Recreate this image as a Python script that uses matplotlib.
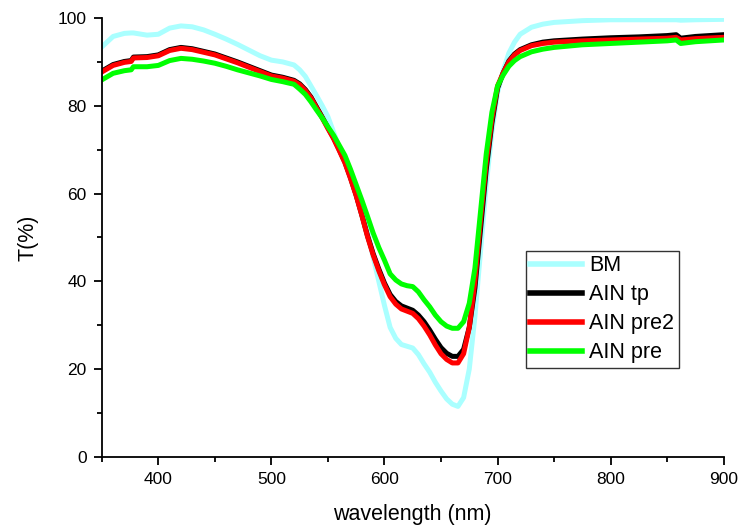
import matplotlib
matplotlib.use("Agg")
import matplotlib.pyplot as plt
from matplotlib.ticker import MultipleLocator

plt.rcParams['font.family'] = ['Liberation Sans', 'DejaVu Sans']

# wavelength grid (nm) shared by all curves
wl = [350, 360, 370, 376, 378, 390, 400, 410, 420, 430, 440, 450, 460, 470, 480,
      490, 500, 510, 520, 525, 530, 535, 540, 545, 550, 555, 560, 565, 570, 575,
      580, 585, 590, 595, 600, 605, 610, 615, 620, 625, 630, 635, 640, 645, 650,
      655, 660, 665, 670, 675, 680, 685, 690, 695, 700, 705, 710, 715, 720, 730,
      740, 750, 775, 800, 825, 850, 858, 862, 875, 900]

bm = [93.4, 95.8, 96.5, 96.6, 96.6, 96.1, 96.3, 97.7, 98.2, 98.0, 97.3, 96.3, 95.2, 94.0, 92.7,
      91.4, 90.4, 90.0, 89.3, 88.2, 86.7, 84.5, 82.3, 80.0, 77.5, 74.0, 70.5, 67.3, 63.8, 60.0,
      56.0, 51.5, 45.5, 40.0, 34.5, 29.5, 27.0, 25.6, 25.2, 24.8, 23.3, 21.2, 19.3, 17.0, 15.0,
      13.2, 12.0, 11.5, 13.5, 20.0, 32.0, 47.0, 62.0, 74.0, 83.0, 88.0, 92.0, 94.5, 96.3, 97.9,
      98.6, 99.0, 99.4, 99.6, 99.6, 99.6, 99.6, 99.5, 99.6, 99.7]

aln_tp = [87.9, 89.4, 90.1, 90.3, 91.1, 91.2, 91.6, 92.8, 93.3, 93.0, 92.4, 91.8, 90.9, 90.0, 89.0,
          88.0, 87.0, 86.5, 85.8, 85.0, 83.7, 82.0, 79.7, 77.4, 75.0, 72.7, 70.0, 67.2, 63.6, 59.6,
          55.1, 50.4, 46.3, 42.8, 39.6, 37.0, 35.4, 34.4, 33.9, 33.4, 32.3, 30.8, 28.9, 26.8, 24.9,
          23.6, 22.9, 22.9, 24.5, 29.5, 38.5, 52.0, 65.5, 76.0, 84.0, 87.5, 90.2, 91.8, 92.8, 93.9,
          94.5, 94.8, 95.2, 95.5, 95.7, 96.0, 96.2, 95.4, 95.8, 96.2]

aln_pre2 = [87.7, 89.2, 89.9, 90.1, 90.9, 91.0, 91.4, 92.6, 93.1, 92.8, 92.2, 91.6, 90.7, 89.8, 88.8,
            87.8, 86.8, 86.3, 85.6, 84.8, 83.5, 81.8, 79.5, 77.2, 74.8, 72.5, 69.8, 67.0, 63.4, 59.5,
            55.0, 50.2, 46.0, 42.4, 39.2, 36.5, 34.8, 33.7, 33.2, 32.7, 31.5, 29.8, 27.8, 25.5, 23.5,
            22.2, 21.4, 21.4, 23.5, 29.5, 40.0, 54.0, 67.0, 77.0, 84.5, 87.5, 90.0, 91.6, 92.6, 93.7,
            94.2, 94.5, 94.8, 95.0, 95.2, 95.4, 95.6, 95.0, 95.3, 95.6]

aln_pre = [85.9, 87.4, 88.0, 88.2, 88.9, 88.9, 89.2, 90.3, 90.8, 90.6, 90.2, 89.7, 89.0, 88.2, 87.5,
           86.8, 86.0, 85.5, 84.9, 83.8, 82.6, 80.9, 79.0, 77.2, 75.2, 73.3, 71.0, 68.7, 65.5, 62.0,
           58.5, 54.8, 51.0, 47.7, 44.8, 41.7, 40.3, 39.4, 39.0, 38.8, 37.6, 35.8, 34.2, 32.3, 30.8,
           29.8, 29.3, 29.3, 30.8, 35.0, 43.0, 56.0, 69.0, 78.5, 84.5, 87.0, 89.0, 90.3, 91.2, 92.3,
           92.9, 93.3, 93.9, 94.2, 94.5, 94.8, 95.0, 94.2, 94.6, 95.0]

labels = ["BM", "AIN tp", "AIN pre2", "AIN pre"]
colors = ["#aaffff", "black", "red", "#00ff00"]
curves = [bm, aln_tp, aln_pre2, aln_pre]

fig = plt.figure(figsize=(7.43, 5.30), dpi=100)
ax = fig.add_axes([0.137, 0.138, 0.837, 0.828])

for name, vals, col in zip(labels, curves, colors):
    ax.plot(wl, vals, color=col, lw=3.6, label=name, solid_joinstyle='round')

ax.set_xlim(350, 900)
ax.set_ylim(0, 100)
ax.xaxis.set_major_locator(MultipleLocator(100))
ax.xaxis.set_minor_locator(MultipleLocator(50))
ax.yaxis.set_major_locator(MultipleLocator(20))
ax.yaxis.set_minor_locator(MultipleLocator(10))

ax.spines['top'].set_visible(False)
ax.spines['right'].set_visible(False)
for s in ('left', 'bottom'):
    ax.spines[s].set_linewidth(1.3)
ax.tick_params(which='major', direction='out', length=6, width=1.3, labelsize=12.5, pad=5)
ax.tick_params(which='minor', direction='out', length=3.5, width=1.3)

ax.set_xlabel("wavelength (nm)", fontsize=15.5, labelpad=12)
ax.set_ylabel("T(%)", fontsize=15.5, labelpad=14)

leg = ax.legend(loc='upper left', bbox_to_anchor=(0.682, 0.469), borderaxespad=0,
                fontsize=15.5, handlelength=2.4, handletextpad=0.35, labelspacing=0.37,
                borderpad=0.2, fancybox=False, framealpha=1, edgecolor='#333333')
leg.get_frame().set_linewidth(1.0)
for line in leg.get_lines():
    line.set_linewidth(4)

fig.savefig("out.png", dpi=100)
